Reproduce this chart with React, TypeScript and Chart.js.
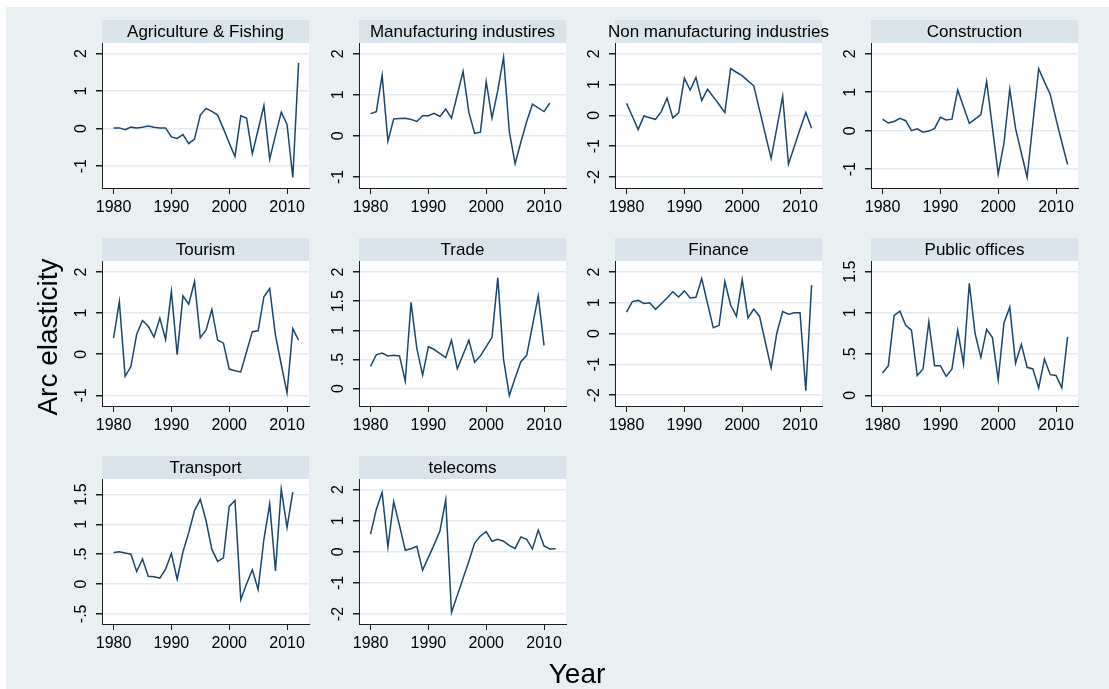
import React, { useEffect, useRef } from "react";
import { Chart, registerables } from "chart.js";

Chart.register(...registerables);

// Years of observation
const years = [
  1980, 1981, 1982, 1983, 1984, 1985, 1986, 1987, 1988, 1989, 1990, 1991,
  1992, 1993, 1994, 1995, 1996, 1997, 1998, 1999, 2000, 2001, 2002, 2003,
  2004, 2005, 2006, 2007, 2008, 2009, 2010, 2011, 2012,
];

// Arc elasticity by sector (series start in 1980)
const agriculture = [
  0.02, 0.02, -0.03, 0.04, 0.02, 0.04, 0.07, 0.04, 0.02, 0.02, -0.22, -0.26,
  -0.16, -0.4, -0.28, 0.36, 0.54, 0.46, 0.36, 0.0, -0.38, -0.74, 0.34, 0.28,
  -0.67, -0.03, 0.61, -0.81, -0.18, 0.44, 0.11, -1.3, 1.75,
];
const manufacturing = [
  0.54, 0.59, 1.47, -0.13, 0.41, 0.42, 0.43, 0.4, 0.35, 0.49, 0.49, 0.55,
  0.47, 0.65, 0.43, 1.0, 1.57, 0.57, 0.06, 0.09, 1.32, 0.43, 1.1, 1.91, 0.1,
  -0.68, -0.15, 0.35, 0.77, 0.68, 0.59, 0.8,
];
const nonManufacturing = [
  0.39, -0.03, -0.46, -0.02, -0.08, -0.13, 0.12, 0.56, -0.08, 0.08, 1.21,
  0.82, 1.23, 0.48, 0.85, 0.6, 0.35, 0.09, 1.52, 1.4, 1.29, 1.12, 0.96, 0.17,
  -0.62, -1.4, -0.4, 0.62, -1.58, -1.02, -0.45, 0.09, -0.42,
];
const construction = [
  0.3, 0.2, 0.24, 0.32, 0.26, 0.0, 0.05, -0.04, -0.01, 0.06, 0.35, 0.28, 0.3,
  1.06, 0.62, 0.19, 0.3, 0.42, 1.28, 0.08, -1.13, -0.32, 1.08, 0.06, -0.58,
  -1.21, 0.2, 1.61, 1.27, 0.94, 0.3, -0.3, -0.88,
];
const tourism = [
  0.39, 1.28, -0.54, -0.3, 0.49, 0.82, 0.68, 0.42, 0.88, 0.36, 1.53, -0.01,
  1.42, 1.22, 1.77, 0.4, 0.59, 1.09, 0.34, 0.27, -0.36, -0.4, -0.43, 0.06,
  0.55, 0.57, 1.4, 1.6, 0.46, -0.25, -0.94, 0.62, 0.34,
];
const trade = [
  0.38, 0.58, 0.61, 0.56, 0.57, 0.56, 0.13, 1.48, 0.69, 0.23, 0.72, 0.67,
  0.6, 0.53, 0.83, 0.34, 0.58, 0.83, 0.45, 0.56, 0.72, 0.88, 1.9, 0.5, -0.12,
  0.18, 0.46, 0.57, 1.08, 1.59, 0.74,
];
const finance = [
  0.7, 1.04, 1.08, 0.98, 1.0, 0.79, 0.97, 1.16, 1.36, 1.19, 1.39, 1.16, 1.18,
  1.79, 0.98, 0.19, 0.27, 1.69, 0.93, 0.56, 1.75, 0.51, 0.8, 0.56, -0.28,
  -1.11, 0.03, 0.72, 0.63, 0.68, 0.68, -1.85, 1.58,
];
const publicOffices = [
  0.27, 0.36, 0.97, 1.02, 0.85, 0.79, 0.24, 0.32, 0.89, 0.36, 0.36, 0.23,
  0.32, 0.79, 0.38, 1.36, 0.75, 0.46, 0.8, 0.7, 0.19, 0.88, 1.07, 0.39, 0.62,
  0.34, 0.32, 0.09, 0.44, 0.25, 0.24, 0.09, 0.71,
];
const transport = [
  0.53, 0.54, 0.52, 0.5, 0.21, 0.42, 0.13, 0.12, 0.1, 0.25, 0.51, 0.08, 0.54,
  0.86, 1.23, 1.42, 1.06, 0.58, 0.38, 0.44, 1.3, 1.4, -0.26, 0.0, 0.24, -0.09,
  0.75, 1.34, 0.22, 1.59, 0.95, 1.54,
];
const telecoms = [
  0.57, 1.37, 1.91, 0.16, 1.61, 0.85, 0.05, 0.1, 0.18, -0.59, -0.18, 0.23,
  0.67, 1.67, -1.95, -1.4, -0.85, -0.3, 0.28, 0.51, 0.65, 0.34, 0.4, 0.34,
  0.2, 0.11, 0.48, 0.4, 0.09, 0.7, 0.19, 0.09, 0.1,
];

const panelTitles = [
  "Agriculture & Fishing",
  "Manufacturing industires",
  "Non manufacturing industries",
  "Construction",
  "Tourism",
  "Trade",
  "Finance",
  "Public offices",
  "Transport",
  "telecoms",
];

// Axis ticks
const xTicks = [1980, 1990, 2000, 2010];
const ticksUnitNeg1 = [-1, 0, 1, 2];
const ticksUnitNeg2 = [-2, -1, 0, 1, 2];
const ticksHalfTo2 = [0, 0.5, 1, 1.5, 2];
const ticksHalfTo15 = [0, 0.5, 1, 1.5];
const ticksHalfNeg = [-0.5, 0, 0.5, 1, 1.5];

const yAxisTitle = "Arc elasticity";
const xAxisTitle = "Year";

// Panel geometry (plot region size, strip height, grid positions)
const FONT = '"Liberation Sans", Arial, Helvetica, sans-serif';
const PLOT_W = 207;
const PLOT_H = 145;
const STRIP_H = 23;
const Y_AXIS_W = 60;
const X_AXIS_H = 35;
const PAD_R = 20;
const COL_LEFT = [102, 358.5, 615, 871];
const ROW_TOP = [20, 238, 456];
const X_MIN = 1978;
const X_MAX = 2013.8;

const BG = "#e8f0f2";
const STRIP = "#d8e4ea";
const GRID = "#e3ebee";
const AXIS = "#1e1e1e";
const LINE = "#1a476f";

type PanelSpec = {
  title: string;
  values: number[];
  yMin: number;
  yMax: number;
  yTicks: number[];
  col: number;
  row: number;
};

const panels: PanelSpec[] = [
  { title: panelTitles[0], values: agriculture, yMin: -1.58, yMax: 2.28, yTicks: ticksUnitNeg1, col: 0, row: 0 },
  { title: panelTitles[1], values: manufacturing, yMin: -1.27, yMax: 2.26, yTicks: ticksUnitNeg1, col: 1, row: 0 },
  { title: panelTitles[2], values: nonManufacturing, yMin: -2.36, yMax: 2.35, yTicks: ticksUnitNeg2, col: 2, row: 0 },
  { title: panelTitles[3], values: construction, yMin: -1.49, yMax: 2.28, yTicks: ticksUnitNeg1, col: 3, row: 0 },
  { title: panelTitles[4], values: tourism, yMin: -1.26, yMax: 2.27, yTicks: ticksUnitNeg1, col: 0, row: 1 },
  { title: panelTitles[5], values: trade, yMin: -0.3, yMax: 2.19, yTicks: ticksHalfTo2, col: 1, row: 1 },
  { title: panelTitles[6], values: finance, yMin: -2.35, yMax: 2.36, yTicks: ticksUnitNeg2, col: 2, row: 1 },
  { title: panelTitles[7], values: publicOffices, yMin: -0.13, yMax: 1.63, yTicks: ticksHalfTo15, col: 3, row: 1 },
  { title: panelTitles[8], values: transport, yMin: -0.67, yMax: 1.76, yTicks: ticksHalfNeg, col: 0, row: 2 },
  { title: panelTitles[9], values: telecoms, yMin: -2.32, yMax: 2.34, yTicks: ticksUnitNeg2, col: 1, row: 2 },
];

// Stata-style number labels: ".5", "-.5", "1.5"
function fmtTick(v: number): string {
  if (Number.isInteger(v)) return String(v);
  return String(v).replace(/^(-?)0\./, "$1.");
}

// Draws the white plot region, the title strip, the strip text and the
// vertical (rotated) y tick labels.
const panelDecor = {
  id: "panelDecor",
  beforeDraw(chart: any) {
    const { ctx, chartArea: a } = chart;
    ctx.save();
    ctx.fillStyle = "#ffffff";
    ctx.fillRect(a.left, a.top, a.right - a.left, a.bottom - a.top);
    ctx.fillStyle = STRIP;
    ctx.fillRect(a.left, a.top - STRIP_H, a.right - a.left, STRIP_H);
    ctx.restore();
  },
  afterDraw(chart: any, _args: any, opts: any) {
    const { ctx, chartArea: a } = chart;
    ctx.save();
    ctx.fillStyle = "#000";
    ctx.font = `17px ${FONT}`;
    ctx.textAlign = "center";
    ctx.textBaseline = "middle";
    ctx.fillText(opts.title, (a.left + a.right) / 2, a.top - STRIP_H / 2 + 0.5);

    const ys = chart.scales.y;
    ctx.font = `16px ${FONT}`;
    for (const t of ys.ticks) {
      const py = ys.getPixelForValue(t.value);
      ctx.save();
      ctx.translate(a.left - 20, py);
      ctx.rotate(-Math.PI / 2);
      ctx.fillText(fmtTick(t.value), 0, 0);
      ctx.restore();
    }
    ctx.restore();
  },
};

function Panel({ spec }: { spec: PanelSpec }) {
  const ref = useRef<HTMLCanvasElement | null>(null);
  const width = Y_AXIS_W + PLOT_W + PAD_R;
  const height = STRIP_H + PLOT_H + X_AXIS_H;

  useEffect(() => {
    if (!ref.current) return;
    const points = spec.values.map((v, i) => ({ x: years[i], y: v }));
    const chart = new Chart(ref.current, {
      type: "line",
      data: {
        datasets: [
          {
            data: points,
            borderColor: LINE,
            borderWidth: 1.5,
            pointRadius: 0,
            tension: 0,
            fill: false,
          },
        ],
      },
      options: {
        animation: false,
        responsive: false,
        maintainAspectRatio: false,
        events: [],
        layout: { padding: { top: STRIP_H, right: PAD_R, left: 0, bottom: 0 } },
        plugins: {
          legend: { display: false },
          tooltip: { enabled: false },
          title: { display: false },
          panelDecor: { title: spec.title },
        } as any,
        scales: {
          x: {
            type: "linear",
            min: X_MIN,
            max: X_MAX,
            afterBuildTicks: (s: any) => {
              s.ticks = xTicks.map((v) => ({ value: v }));
            },
            afterFit: (s: any) => {
              s.height = X_AXIS_H;
            },
            grid: {
              drawOnChartArea: false,
              tickLength: 6,
              tickColor: AXIS,
              color: AXIS,
            },
            border: { color: AXIS, width: 1 },
            ticks: {
              color: "#000",
              font: { family: FONT, size: 16 },
              padding: 4,
              maxRotation: 0,
              autoSkip: false,
              callback: (v: any) => String(v),
            },
          },
          y: {
            type: "linear",
            min: spec.yMin,
            max: spec.yMax,
            afterBuildTicks: (s: any) => {
              s.ticks = spec.yTicks.map((v) => ({ value: v }));
            },
            afterFit: (s: any) => {
              s.width = Y_AXIS_W;
            },
            grid: {
              color: GRID,
              tickColor: AXIS,
              tickLength: 6,
              lineWidth: 1.5,
            },
            border: { color: AXIS, width: 1 },
            ticks: { display: false },
          },
        },
      },
      plugins: [panelDecor],
    });
    return () => chart.destroy();
  }, [spec]);

  return (
    <canvas
      ref={ref}
      width={width}
      height={height}
      style={{
        position: "absolute",
        left: COL_LEFT[spec.col] - Y_AXIS_W,
        top: ROW_TOP[spec.row],
        width,
        height,
      }}
    />
  );
}

export default function App() {
  return (
    <div
      style={{
        position: "fixed",
        left: 0,
        top: 0,
        width: 1109,
        height: 689,
        background: "#ffffff",
        overflow: "hidden",
        fontFamily: FONT,
      }}
    >
      <div
        style={{
          position: "absolute",
          left: 6,
          top: 7,
          right: 0,
          bottom: 0,
          background: BG,
        }}
      />
      {panels.map((p) => (
        <Panel key={p.title} spec={p} />
      ))}
      <div
        style={{
          position: "absolute",
          left: 48 - 150,
          top: 337 - 16,
          width: 300,
          height: 32,
          lineHeight: "32px",
          textAlign: "center",
          fontSize: 28,
          color: "#000",
          transform: "rotate(-90deg)",
          whiteSpace: "nowrap",
        }}
      >
        {yAxisTitle}
      </div>
      <div
        style={{
          position: "absolute",
          left: 577 - 100,
          top: 674 - 16,
          width: 200,
          height: 32,
          lineHeight: "32px",
          textAlign: "center",
          fontSize: 28,
          color: "#000",
          whiteSpace: "nowrap",
        }}
      >
        {xAxisTitle}
      </div>
    </div>
  );
}
